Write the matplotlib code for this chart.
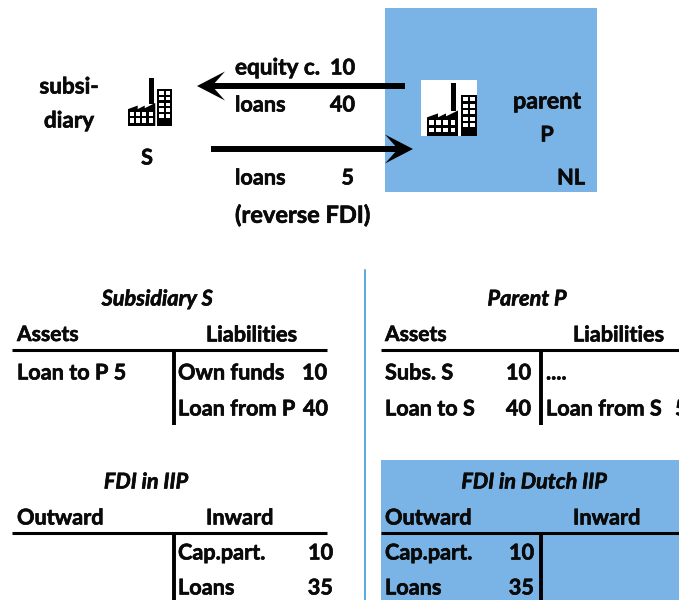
import matplotlib
matplotlib.use('Agg')
import matplotlib.pyplot as plt
from matplotlib.patches import Rectangle, Polygon
import matplotlib.patheffects as pe

# flows between parent and subsidiary
equity_label = 'equity c.'
equity_value = 10
loan_label = 'loans'
loan_value = 40
reverse_value = 5

# balance sheets
subs_assets = [('Loan to P', 5)]
subs_liabs = [('Own funds', 10), ('Loan from P', 40)]
parent_assets = [('Subs. S', 10), ('Loan to S', 40)]
parent_liabs = [('....', None), ('Loan from S', 5)]
iip_labels = ['Cap.part.', 'Loans']
iip_values = [10, 35]

BLUE = '#7ab3e5'
LINE = '#2f92d6'
FS = 15.6

plt.rcParams['font.family'] = ['Lato', 'DejaVu Sans']

fig = plt.figure(figsize=(6.79, 6.0), dpi=100)
ax = fig.add_axes([0, 0, 1, 1])
ax.set_xlim(0, 679)
ax.set_ylim(600, 0)
ax.axis('off')


def txt(x, y, s, ha='left', style='normal', size=FS):
    t = ax.text(x, y + 1, str(s), ha=ha, va='center', fontweight='bold', fontsize=size,
                fontstyle=style, color='#0a0a0a', zorder=5)
    # calibri bold in the picture is heavier than lato bold
    t.set_path_effects([pe.withStroke(linewidth=0.45, foreground='#0a0a0a')])


def factory(x, y, w, h):
    # little factory icon, drawn in a 50x54 box
    def X(v):
        return x + v * w / 50

    def Y(v):
        return y + v * h / 54

    # chimney
    ax.add_patch(Rectangle((X(23.5), Y(0)), 5.5 * w / 50, 29 * h / 54, fc='black', ec='none', zorder=3))
    # saw roof and left block
    roof = [(0, 35), (11, 31), (11, 35), (19, 31), (19, 34), (31, 28), (31, 54), (0, 54)]
    ax.add_patch(Polygon([(X(a), Y(b)) for a, b in roof], fc='black', ec='none', zorder=3))
    # tower
    ax.add_patch(Rectangle((X(33.5), Y(12)), 16.5 * w / 50, 42 * h / 54, fc='black', ec='none', zorder=3))
    # windows
    for i in range(4):
        for j in range(2):
            ax.add_patch(Rectangle((X(2 + i * 7.2), Y(38 + j * 7.5)), 4.6 * w / 50, 4.8 * h / 54, fc='white', ec='none', zorder=4))
    for i in range(2):
        for j in range(5):
            ax.add_patch(Rectangle((X(35.5 + i * 7.3), Y(14.5 + j * 6.6)), 5.2 * w / 50, 4.2 * h / 54, fc='white', ec='none', zorder=4))


def arrow(x0, xtip, y):
    # thick line with a notched head, pointing from x0 to xtip
    d = 1 if xtip > x0 else -1
    ax.plot([x0, xtip - d * 12], [y, y], color='black', lw=4.3, solid_capstyle='butt', zorder=4)
    head = [(xtip, y), (xtip - d * 28, y - 14.5), (xtip - d * 15, y), (xtip - d * 28, y + 14.5)]
    ax.add_patch(Polygon(head, fc='black', ec='none', zorder=4))


def tee(x0, x1, xm, y, yend):
    ax.plot([x0, x1], [y, y], color='black', lw=2.2, solid_capstyle='butt', zorder=4)
    ax.plot([xm, xm], [y, yend], color='black', lw=2.8, solid_capstyle='butt', zorder=4)


# top diagram
ax.add_patch(Rectangle((385, 8), 212, 184, fc=BLUE, ec='none', zorder=1))
ax.add_patch(Rectangle((421, 80), 56, 56, fc='white', ec='none', zorder=2))
factory(427, 83, 50, 53)
factory(128, 78, 44, 48)
arrow(405, 197, 86)
arrow(211, 413, 149)

txt(69, 86, 'subsi-', ha='center', size=16.2)
txt(69, 120, 'diary', ha='center', size=16.2)
txt(147, 157, 'S', ha='center')
txt(235, 67, equity_label, size=16.2)
txt(355, 67, equity_value, ha='right')
txt(235, 104, loan_label)
txt(355, 104, loan_value, ha='right')
txt(235, 177, loan_label)
txt(354, 177, reverse_value, ha='right')
txt(235, 214, '(reverse FDI)', size=17)
txt(547, 101, 'parent', ha='center', size=16.8)
txt(547, 134, 'P', ha='center')
txt(585, 177, 'NL', ha='right')

# divider
ax.plot([365, 365], [270, 600], color=LINE, lw=1.1, zorder=2)

# subsidiary balance sheet
txt(157, 298, 'Subsidiary S', ha='center', style='italic')
txt(17, 334, 'Assets', size=15.2)
txt(206, 334, 'Liabilities')
tee(12, 327, 174, 350, 425)
txt(17, 372, subs_assets[0][0] + ' ' + str(subs_assets[0][1]))
txt(178, 372, subs_liabs[0][0])
txt(327, 372, subs_liabs[0][1], ha='right')
txt(178, 408, subs_liabs[1][0])
txt(328, 408, subs_liabs[1][1], ha='right')

# parent balance sheet
txt(527, 298, 'Parent P', ha='center', style='italic')
txt(385, 334, 'Assets', size=15.2)
txt(573, 334, 'Liabilities')
tee(381, 679, 541, 350, 425)
txt(385, 372, parent_assets[0][0])
txt(531, 372, parent_assets[0][1], ha='right')
txt(385, 408, parent_assets[1][0])
txt(531, 408, parent_assets[1][1], ha='right')
txt(546, 372, parent_liabs[0][0])
txt(546, 408, parent_liabs[1][0])
txt(675, 408, parent_liabs[1][1])

# FDI in IIP, subsidiary side
txt(146, 481, 'FDI in IIP', ha='center', style='italic')
txt(17, 517, 'Outward')
txt(206, 517, 'Inward')
tee(12, 327, 174, 533, 600)
for lab, val, y in zip(iip_labels, iip_values, [552, 587]):
    txt(178, y, lab)
    txt(333, y, val, ha='right')

# FDI in Dutch IIP
ax.add_patch(Rectangle((381, 460), 298, 140, fc=BLUE, ec='none', zorder=1))
txt(534, 481, 'FDI in Dutch IIP', ha='center', style='italic')
txt(385, 517, 'Outward')
txt(573, 517, 'Inward')
tee(381, 679, 541, 533, 600)
for lab, val, y in zip(iip_labels, iip_values, [552, 587]):
    txt(385, y, lab)
    txt(534, y, val, ha='right')

fig.savefig('out.png', dpi=100)
